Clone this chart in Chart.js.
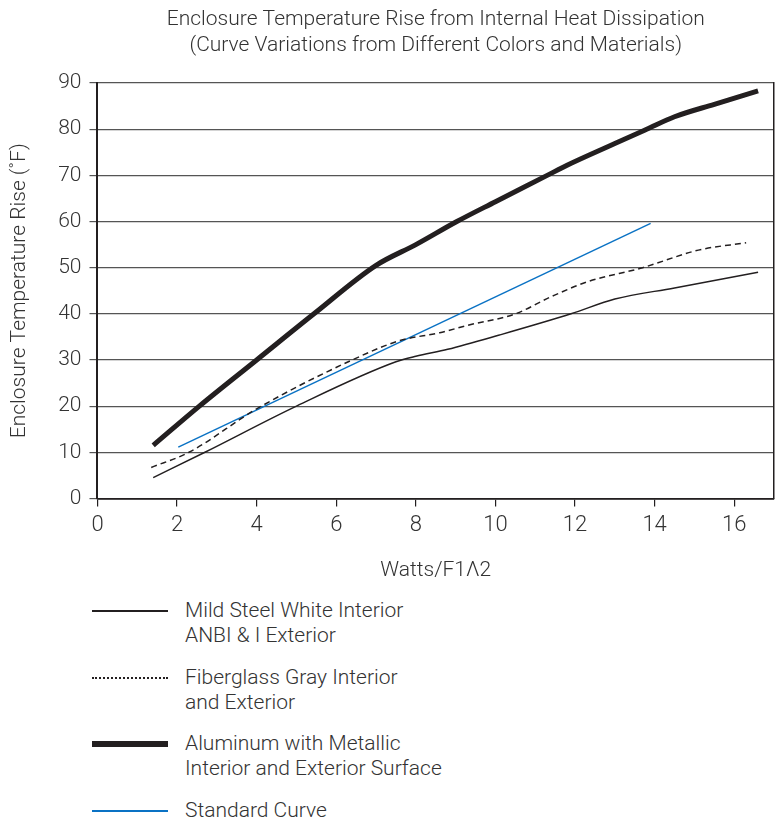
<!DOCTYPE html>
<html>
<head>
<meta charset="utf-8">
<script src="https://cdn.jsdelivr.net/npm/chart.js@4/dist/chart.umd.min.js"></script>
<style>
  html, body { margin: 0; padding: 0; background: #fff; }
  #wrap { position: relative; width: 780px; height: 823px; font-family: Roboto, "Noto Sans", sans-serif; font-weight: 300; color: #333; }
  #chartBox { position: absolute; left: 0; top: 0; width: 780px; height: 595px; }
  #legend { position: absolute; left: 0; top: 598px; width: 780px; }
  .item { position: absolute; left: 0; width: 780px; }
  .sw { position: absolute; left: 92px; width: 76px; height: 0; }
  .txt { position: absolute; left: 185px; font-size: 21px; line-height: 25px; white-space: nowrap; }
</style>
</head>
<body>
<div id="wrap">
  <div id="chartBox"><canvas id="c"></canvas></div>
  <div id="legend"></div>
</div>
<script>
// ---- data ----
const titleLines = ["Enclosure Temperature Rise from Internal Heat Dissipation", "(Curve Variations from Different Colors and Materials)"];
const xTitle = "Watts/F1\u039B2";
const yTitle = "Enclosure Temperature Rise (\u02DAF)";

const mildSteelX = [1.4, 2.7, 5.0, 7.5, 8.0, 8.8, 10.1, 11.9, 13.0, 14.5, 16.6];
const mildSteelY = [4.5, 10, 20, 29.6, 30.8, 32.3, 35.4, 40, 43.2, 45.6, 49.0];

const fiberX = [1.35, 2.3, 4.0, 6.4, 7.6, 8.6, 9.3, 10.5, 11.4, 12.3, 13.7, 15.1, 16.3];
const fiberY = [6.7, 10, 19.4, 30, 34.2, 35.9, 37.5, 40, 43.7, 46.9, 50, 53.8, 55.4];

const aluX = [1.4, 2.56, 4.0, 5.44, 7.0, 8.0, 9.03, 10.0, 11.3, 11.8, 13.0, 13.8, 14.5, 15.5, 16.6];
const aluY = [11.5, 20, 30, 40, 50.5, 55, 60, 64.3, 70, 72.2, 76.9, 80, 82.7, 85.4, 88.3];

const stdX = [2.03, 13.9];
const stdY = [11.1, 59.6];

const legendLabels = [
  ["Mild Steel White Interior", "ANBI & I Exterior"],
  ["Fiberglass Gray Interior", "and Exterior"],
  ["Aluminum with Metallic", "Interior and Exterior Surface"],
  ["Standard Curve"]
];

const xTicks = [0, 2, 4, 6, 8, 10, 12, 14, 16];
const yTicks = [0, 10, 20, 30, 40, 50, 60, 70, 80, 90];

// ---- build ----
function pts(xs, ys) { return xs.map((x, i) => ({ x: x, y: ys[i] })); }

const FONT = "Roboto, 'Noto Sans', sans-serif";
const styles = [
  { color: '#231f20', width: 1.5, dash: [], sw: 2.5 },
  { color: '#231f20', width: 1.5, dash: [6, 4], sw: 2 },
  { color: '#231f20', width: 5, dash: [], sw: 6 },
  { color: '#0a72c4', width: 1.5, dash: [], sw: 2.5 }
];
const series = [pts(mildSteelX, mildSteelY), pts(fiberX, fiberY), pts(aluX, aluY), pts(stdX, stdY)];

const datasets = series.map((d, i) => ({
  label: legendLabels[i].join(' '),
  data: d,
  borderColor: styles[i].color,
  borderWidth: styles[i].width,
  borderDash: styles[i].dash,
  pointRadius: 0,
  fill: false,
  cubicInterpolationMode: 'monotone',
  borderCapStyle: 'butt'
}));

new Chart(document.getElementById('c'), {
  type: 'line',
  data: { datasets: datasets },
  options: {
    responsive: true,
    maintainAspectRatio: false,
    animation: false,
    layout: { padding: { left: 4, right: 6, top: 7, bottom: 8 } },
    plugins: {
      legend: { display: false },
      tooltip: { enabled: false },
      title: {
        display: true,
        fullSize: false,
        text: titleLines,
        color: '#333',
        font: { family: FONT, size: 21, weight: 300, lineHeight: 1.24 },
        padding: { top: 0, bottom: 24 }
      }
    },
    scales: {
      x: {
        type: 'linear',
        min: 0, max: 17,
        afterBuildTicks: (s) => { s.ticks = xTicks.map(v => ({ value: v })); },
        ticks: { color: '#333', font: { family: FONT, size: 22, weight: 300 }, padding: 6 },
        grid: { drawOnChartArea: false, drawTicks: true, tickLength: 8, color: '#231f20', lineWidth: 1.2 },
        border: { display: true, color: '#231f20', width: 1.8 },
        title: { display: true, text: xTitle, color: '#333', font: { family: FONT, size: 21, weight: 300 }, padding: { top: 13, bottom: 4 } }
      },
      y: {
        min: 0, max: 90,
        afterBuildTicks: (s) => { s.ticks = yTicks.map(v => ({ value: v })); },
        ticks: { color: '#333', font: { family: FONT, size: 21, weight: 300 }, padding: 8 },
        grid: { drawOnChartArea: true, drawTicks: true, tickLength: 8, color: '#555', lineWidth: 1.2 },
        border: { display: true, color: '#231f20', width: 2 },
        title: { display: true, text: yTitle, color: '#333', font: { family: FONT, size: 21, weight: 300 }, padding: { top: 3, bottom: 18 } }
      },
      y2: {
        position: 'right',
        min: 0, max: 90,
        display: true,
        ticks: { display: false },
        grid: { display: false, drawTicks: false },
        border: { display: true, color: '#231f20', width: 1.5 }
      }
    }
  }
});

// ---- HTML legend ----
const legendTops = [0, 67, 133, 200];
const lg = document.getElementById('legend');
legendLabels.forEach((lines, i) => {
  const it = document.createElement('div');
  it.className = 'item';
  it.style.top = legendTops[i] + 'px';
  const sw = document.createElement('div');
  sw.className = 'sw';
  const st = styles[i];
  sw.style.top = (13 - st.sw / 2) + 'px';
  if (i === 1) {
    sw.style.borderTop = '2px dotted ' + st.color;
    sw.style.top = '12px';
  } else {
    sw.style.borderTop = st.sw + 'px solid ' + st.color;
  }
  const tx = document.createElement('div');
  tx.className = 'txt';
  tx.style.top = '0px';
  tx.innerHTML = lines.join('<br>');
  it.appendChild(sw);
  it.appendChild(tx);
  lg.appendChild(it);
});
</script>
</body>
</html>
